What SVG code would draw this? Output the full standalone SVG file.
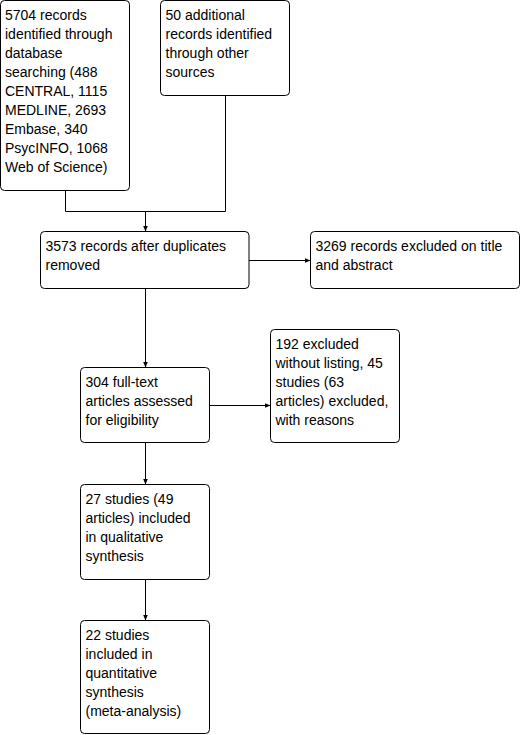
<svg xmlns="http://www.w3.org/2000/svg" width="522" height="735" viewBox="0 0 522 735">
<defs>
<marker id="ah" viewBox="0 0 6 6" refX="6" refY="3" markerWidth="6" markerHeight="6" markerUnits="userSpaceOnUse" orient="auto">
<path d="M0,0.5 L6,3 L0,5.5 Z" fill="#000"/>
</marker>
<style>
.box{fill:#fff;stroke:#000;stroke-width:1}
.t{font-family:"Liberation Sans",Arial,sans-serif;font-size:14px;fill:#000}
.c{fill:none;stroke:#000;stroke-width:1}
</style>
</defs>
<rect width="522" height="735" fill="#fff"/>
<g id="connectors">
<polyline class="c" points="65.5,190.5 65.5,211.5 225.5,211.5 225.5,95.5"/>
<line class="c" x1="145.5" y1="211.5" x2="145.5" y2="231.5" marker-end="url(#ah)"/>
<line class="c" x1="249" y1="260.5" x2="310.5" y2="260.5" marker-end="url(#ah)"/>
<line class="c" x1="145.5" y1="288.5" x2="145.5" y2="367.5" marker-end="url(#ah)"/>
<line class="c" x1="209.5" y1="405.5" x2="270.5" y2="405.5" marker-end="url(#ah)"/>
<line class="c" x1="145.5" y1="442.5" x2="145.5" y2="484.5" marker-end="url(#ah)"/>
<line class="c" x1="145.5" y1="579.5" x2="145.5" y2="620.5" marker-end="url(#ah)"/>
</g>
<g id="n1">
<rect class="box" x="0.5" y="0.5" width="129" height="190" rx="4"/>
<text class="t" x="5" y="20"><tspan x="5">5704 records</tspan><tspan x="5" dy="19">identified through</tspan><tspan x="5" dy="19">database</tspan><tspan x="5" dy="19">searching (488</tspan><tspan x="5" dy="19">CENTRAL, 1115</tspan><tspan x="5" dy="19">MEDLINE, 2693</tspan><tspan x="5" dy="19">Embase, 340</tspan><tspan x="5" dy="19">PsycINFO, 1068</tspan><tspan x="5" dy="19">Web of Science)</tspan></text>
</g>
<g id="n2">
<rect class="box" x="160.5" y="0.5" width="129" height="95" rx="4"/>
<text class="t" x="165.5" y="20"><tspan x="165.5">50 additional</tspan><tspan x="165.5" dy="19">records identified</tspan><tspan x="165.5" dy="19">through other</tspan><tspan x="165.5" dy="19">sources</tspan></text>
</g>
<g id="n3">
<rect class="box" x="40.5" y="231.5" width="208.5" height="57" rx="4"/>
<text class="t" x="45.5" y="250.5"><tspan x="45.5">3573 records after duplicates</tspan><tspan x="45.5" dy="19">removed</tspan></text>
</g>
<g id="n4">
<rect class="box" x="310.5" y="231.5" width="209" height="57" rx="4"/>
<text class="t" x="315.5" y="250.5"><tspan x="315.5">3269 records excluded on title</tspan><tspan x="315.5" dy="19">and abstract</tspan></text>
</g>
<g id="n5">
<rect class="box" x="80.5" y="367.5" width="129" height="75" rx="4"/>
<text class="t" x="85.5" y="386.5"><tspan x="85.5">304 full-text</tspan><tspan x="85.5" dy="19">articles assessed</tspan><tspan x="85.5" dy="19">for eligibility</tspan></text>
</g>
<g id="n6">
<rect class="box" x="270.5" y="329.5" width="129" height="113" rx="4"/>
<text class="t" x="275.5" y="348.5"><tspan x="275.5">192 excluded</tspan><tspan x="275.5" dy="19">without listing, 45</tspan><tspan x="275.5" dy="19">studies (63</tspan><tspan x="275.5" dy="19">articles) excluded,</tspan><tspan x="275.5" dy="19">with reasons</tspan></text>
</g>
<g id="n7">
<rect class="box" x="80.5" y="484.5" width="129" height="95" rx="4"/>
<text class="t" x="85.5" y="503.5"><tspan x="85.5">27 studies (49</tspan><tspan x="85.5" dy="19">articles) included</tspan><tspan x="85.5" dy="19">in qualitative</tspan><tspan x="85.5" dy="19">synthesis</tspan></text>
</g>
<g id="n8">
<rect class="box" x="80.5" y="620.5" width="129" height="113" rx="4"/>
<text class="t" x="85.5" y="639.5"><tspan x="85.5">22 studies</tspan><tspan x="85.5" dy="19">included in</tspan><tspan x="85.5" dy="19">quantitative</tspan><tspan x="85.5" dy="19">synthesis</tspan><tspan x="85.5" dy="19">(meta-analysis)</tspan></text>
</g>
</svg>
